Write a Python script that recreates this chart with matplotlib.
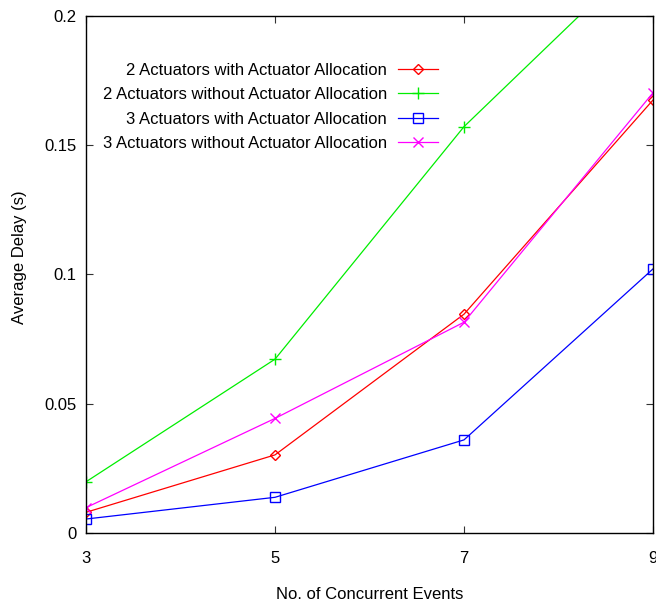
import matplotlib
matplotlib.use("Agg")
import matplotlib.pyplot as plt

plt.rcParams["font.family"] = ["Liberation Sans", "DejaVu Sans"]

# Average delay per number of concurrent events
events = [3, 5, 7, 9]
two_act_alloc = [0.0080, 0.0302, 0.0846, 0.1674]
two_act_no_alloc = [0.0198, 0.0672, 0.1571, 0.2274]
three_act_alloc = [0.0054, 0.0138, 0.0360, 0.1021]
three_act_no_alloc = [0.0098, 0.0443, 0.0815, 0.1702]

labels = [
    "2 Actuators with Actuator Allocation",
    "2 Actuators without Actuator Allocation",
    "3 Actuators with Actuator Allocation",
    "3 Actuators without Actuator Allocation",
]
y_ticks = [0, 0.05, 0.1, 0.15, 0.2]
y_tick_labels = ["0", "0.05", "0.1", "0.15", "0.2"]

FS = 12

fig = plt.figure(figsize=(6.56, 6.08), dpi=100)
ax = fig.add_axes([86 / 656, 1 - 533 / 608, 567 / 656, (533 - 15.7) / 608])

series = [
    (two_act_alloc, "#ff0000", "D", 5.5),
    (two_act_no_alloc, "#00ee00", "+", 9.0),
    (three_act_alloc, "#0000ff", "s", 7.5),
    (three_act_no_alloc, "#ff00ff", "x", 7.5),
]
for (vals, color, marker, ms), label in zip(series, labels):
    ax.plot(events, vals, color=color, marker=marker, markersize=ms,
            markerfacecolor="none", markeredgecolor=color, markeredgewidth=1.0,
            linewidth=0.9, label=label)

ax.set_xlim(3, 9)
ax.set_ylim(0, 0.2)
ax.set_xticks(events)
ax.set_xticklabels([str(e) for e in events], fontsize=FS)
ax.set_yticks(y_ticks)
ax.set_yticklabels(y_tick_labels, fontsize=FS)
ax.tick_params(axis="both", direction="in", length=5, width=0.8,
               top=True, right=True, color="#333333")
ax.tick_params(axis="x", pad=13)
ax.tick_params(axis="y", pad=7)
for sp in ax.spines.values():
    sp.set_linewidth(1.0)

ax.set_xlabel("No. of Concurrent Events", fontsize=FS)
ax.xaxis.set_label_coords(0.5, -0.105)
ax.set_ylabel("Average Delay (s)", fontsize=FS)
ax.yaxis.set_label_coords(-0.104, 0.534)

ax.legend(loc="upper right", bbox_to_anchor=(0.621, 0.909), frameon=False,
          markerfirst=False, fontsize=FS, handlelength=2.4,
          handletextpad=0.66, labelspacing=0.57, borderpad=0, borderaxespad=0)

fig.savefig("out.png", dpi=100)
